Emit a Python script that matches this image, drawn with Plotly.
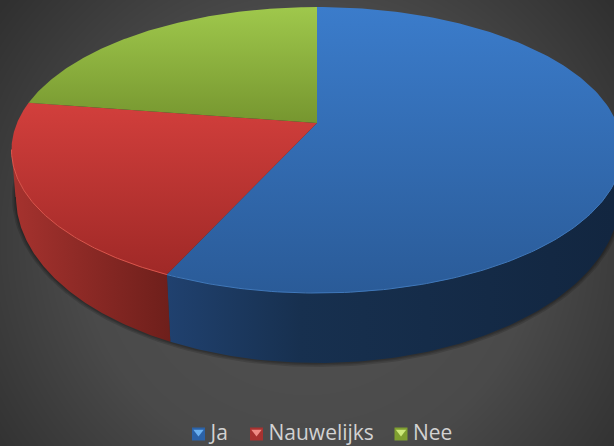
import numpy as np
import plotly.graph_objects as go

# Data
categories = ["Ja", "Nauwelijks", "Nee"]
values = [56.8, 20.6, 22.6]

# Styles
top_stops = {
    "Ja": [[0, "#3b7ccb"], [1, "#2a5b98"]],
    "Nauwelijks": [[0, "#d23f3c"], [1, "#a02927"]],
    "Nee": [[0, "#9fc84c"], [1, "#76962f"]],
}
top_span = {"Ja": (7, 293), "Nauwelijks": (103, 273), "Nee": (7, 123)}
wall_stops = {
    "Ja": [[0, "#20416f"], [0.3, "#17304f"], [1, "#122640"]],
    "Nauwelijks": [[0, "#a5322e"], [1, "#6e1f1b"]],
}
wall_span = {"Ja": (167, 614), "Nauwelijks": (14, 170)}
rim_col = {"Ja": "#3f78bb", "Nauwelijks": "#dc554c"}
leg_cols = {"Ja": ("#6ab0f0", "#2b62a8"), "Nauwelijks": ("#f08a84", "#a83230"), "Nee": ("#cde87a", "#7f9f30")}
leg_swatch_x = {"Ja": 198.5, "Nauwelijks": 256.5, "Nee": 401.0}
leg_text_x = {"Ja": 210.5, "Nauwelijks": 268.5, "Nee": 413.0}
LEG_Y = 434.0

# Perspective view of a disc
X0, Y0, A, B, K = 317.0, 123.0, 300.0, 137.9, 0.189
# Lower edge of the wall
LOW_X, LOW_Y, LOW_RX, LOW_RY = 318.0, 197.0, 302.0, 166.0


def top_xy(t, r=1.0):
    c, s = r * np.sin(t), r * np.cos(t)
    w = 1 + K * s
    return X0 + A * c / w, Y0 - B * s / w


def low_xy(t):
    x, _ = top_xy(t)
    lx = 16 + (x - 12) * 0.9967
    u = np.clip((lx - LOW_X) / LOW_RX, -1, 1)
    return lx, LOW_Y + LOW_RY * np.sqrt(1 - u ** 2)


fracs = np.array(values) / sum(values)
edges = np.concatenate([[0], np.cumsum(fracs)]) * 2 * np.pi
T_RIGHT, T_LEFT = np.pi - np.arctan2(1, K) + 0.0, np.pi + np.arctan2(1, K)

fig = go.Figure()

# Background: radial grey glow
gx = np.arange(0, 615, 6.0)
gy = np.arange(0, 447, 6.0)
xx, yy = np.meshgrid(gx, gy)
dist = np.hypot(xx - 307, yy - 240)
fig.add_trace(go.Heatmap(
    x=gx, y=gy, z=np.interp(dist, [0, 225, 310, 385], [82, 74, 60, 48]),
    colorscale=[[0, "#000"], [1, "#fff"]], zmin=0, zmax=255,
    zsmooth="best", showscale=False, hoverinfo="skip"))

# Soft shadow around the lower edge
tt = np.linspace(0, 2 * np.pi, 240)
for dr in [4.0, 2.5, 1.2]:
    sx = LOW_X + (LOW_RX + dr) * np.sin(tt)
    sy = LOW_Y + (LOW_RY + dr) * np.cos(tt)
    fig.add_trace(go.Scatter(x=sx, y=sy, mode="lines", fill="toself", line_width=0,
                             fillcolor="rgba(0,0,0,0.14)", hoverinfo="skip", showlegend=False))

# Walls
wall_range = {"Ja": (T_RIGHT, edges[1]), "Nauwelijks": (edges[1], T_LEFT)}
for name in ["Ja", "Nauwelijks"]:
    t = np.linspace(*wall_range[name], 120)
    tx, ty = top_xy(t)
    lx, ly = low_xy(t[::-1])
    a, b = wall_span[name]
    fig.add_trace(go.Scatter(
        x=np.r_[tx, lx], y=np.r_[ty, ly], mode="lines", fill="toself", line_width=0,
        fillgradient=dict(type="horizontal", colorscale=wall_stops[name], start=a, stop=b),
        hoverinfo="skip", showlegend=False))

# Top faces
for i, name in enumerate(categories):
    t = np.linspace(edges[i], edges[i + 1], 160)
    x, y = top_xy(t)
    a, b = top_span[name]
    fig.add_trace(go.Scatter(
        x=np.r_[X0, x, X0], y=np.r_[Y0, y, Y0], mode="lines", fill="toself", line_width=0,
        fillgradient=dict(type="vertical", colorscale=top_stops[name], start=a, stop=b),
        name=name, hoverinfo="skip", showlegend=False))

# Rim highlight on the front edge
for name, rng in wall_range.items():
    t = np.linspace(*rng, 120)
    x, y = top_xy(t)
    fig.add_trace(go.Scatter(x=x, y=y, mode="lines", line=dict(color=rim_col[name], width=1.0),
                             hoverinfo="skip", showlegend=False))

# Legend key: bevelled swatches and labels
for name in categories:
    hi, lo = leg_cols[name]
    fig.add_trace(go.Scatter(
        x=[leg_swatch_x[name]], y=[LEG_Y], mode="markers", showlegend=False, hoverinfo="skip",
        marker=dict(symbol="square", size=13, color=lo, line_width=0)))
    fig.add_trace(go.Scatter(
        x=[leg_swatch_x[name]], y=[LEG_Y - 2], mode="markers", showlegend=False, hoverinfo="skip",
        marker=dict(symbol="triangle-down", size=9, color=hi, line_width=0)))
    fig.add_trace(go.Scatter(
        x=[leg_text_x[name]], y=[LEG_Y + 1], mode="text", text=[name], textposition="middle right",
        textfont=dict(family="Open Sans", size=21, color="#d2d2d2"),
        showlegend=False, hoverinfo="skip"))

fig.update_layout(
    width=614, height=446, margin=dict(l=0, r=0, t=0, b=0),
    paper_bgcolor="#404040", plot_bgcolor="#404040",
    xaxis=dict(range=[0, 614], visible=False, fixedrange=True),
    yaxis=dict(range=[446, 0], visible=False, fixedrange=True),
    showlegend=False,
    font=dict(family="Open Sans", color="#d2d2d2"),
)
fig.write_html("out.html", config={"displayModeBar": False},
               post_script="document.body.style.margin='0';document.documentElement.style.overflow='hidden';")
